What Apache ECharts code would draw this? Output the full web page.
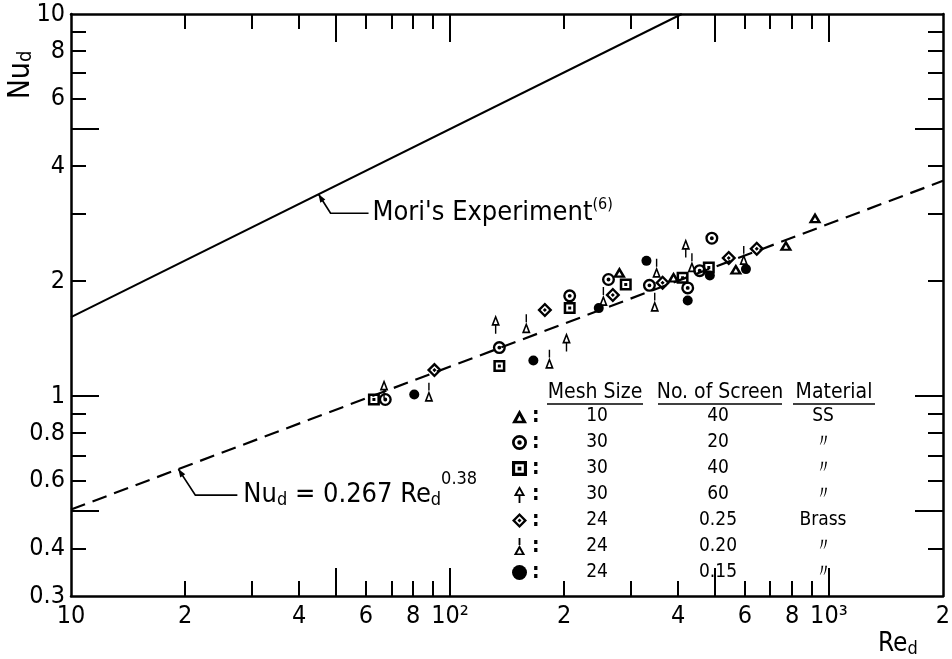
<!DOCTYPE html>
<html>
<head>
<meta charset="utf-8">
<script src="https://cdn.jsdelivr.net/npm/echarts@6/dist/echarts.min.js"></script>
<style>
  html, body { margin: 0; padding: 0; background: #fff; }
  #chart { width: 952px; height: 659px; }
</style>
</head>
<body>
<div id="chart"></div>
<script>
// readings as [Re_d, Nu_d], one list per symbol of the key
var ss10x40 = [[280, 2.11], [389, 2.05], [568, 2.15], [770, 2.48], [919, 2.93]];
var ss30x20 = [[67.5, 0.98], [135, 1.34], [207, 1.83], [262, 2.02], [336, 1.95], [424, 1.92], [456, 2.13], [491, 2.59]];
var ss30x40 = [[63, 0.98], [135, 1.20], [207, 1.70], [291, 1.96], [411, 2.04], [482, 2.17]];
var ss30x60 = [[67, 1.07], [132, 1.58], [203, 1.42], [419, 2.50]];
var br24x025 = [[91, 1.17], [178, 1.68], [269, 1.84], [364, 1.98], [544, 2.30], [645, 2.43]];
var br24x020 = [[88, 1.00], [159, 1.51], [183, 1.22], [254, 1.78], [351, 2.11], [347, 1.72], [435, 2.18], [596, 2.28]];
var br24x015 = [[80.5, 1.01], [166, 1.24], [247, 1.70], [330, 2.26], [424, 1.78], [485, 2.07], [604, 2.15]];

// the two drawn lines (end points)
var moriLine = [[10, 1.61], [409, 10]];
var fitLine = [[10, 0.505], [2000, 3.66]];

// key table
var meshSizes = ['10', '30', '30', '30', '24', '24', '24'];
var screenCounts = ['40', '20', '40', '60', '0.25', '0.20', '0.15'];
var materials = ['SS', '\u3003', '\u3003', '\u3003', 'Brass', '\u3003', '\u3003'];

// axis ticks and labels
var xMinor = [20, 30, 40, 60, 70, 80, 90, 200, 300, 400, 600, 700, 800, 900];
var xMajor = [50, 100, 500, 1000];
var xLabelValues = [10, 20, 40, 60, 80, 100, 200, 400, 600, 800, 1000, 2000];
var xLabelText = ['10', '2', '4', '6', '8', '10\u00b2', '2', '4', '6', '8', '10\u00b3', '2'];
var yMinor = [0.4, 0.6, 0.7, 0.8, 0.9, 2, 3, 4, 6, 7, 8, 9];
var yMajor = [0.5, 1, 5];
var yLabelValues = [0.3, 0.4, 0.6, 0.8, 1, 2, 4, 6, 8, 10];
var yLabelText = ['0.3', '0.4', '0.6', '0.8', '1', '2', '4', '6', '8', '10'];

var font = "'DejaVu Sans Condensed', 'DejaVu Sans'";

var symbols = {
    triA: 'path://M10,0L20,18L0,18Z M10,8L6.6,14.6L13.4,14.6Z',
    circDot: 'path://M0,10A10,10,0,1,1,20,10A10,10,0,1,1,0,10Z M3.6,10A6.4,6.4,0,1,0,16.4,10A6.4,6.4,0,1,0,3.6,10Z M7,10A3,3,0,1,1,13,10A3,3,0,1,1,7,10Z',
    sqDot: 'path://M0,0L20,0L20,20L0,20Z M4.2,4.2L4.2,15.8L15.8,15.8L15.8,4.2Z M7.5,7.5L12.5,7.5L12.5,12.5L7.5,12.5Z',
    stemDown: 'path://M8,0L16,14L0,14Z M8,5.4L4.5,11.8L11.5,11.8Z M6.7,14L9.3,14L9.3,24L6.7,24Z',
    diaDot: 'path://M10,0L20,10L10,20L0,10Z M10,4.4L4.4,10L10,15.6L15.6,10Z M10,7.3L12.7,10L10,12.7L7.3,10Z',
    stemUp: 'path://M6.7,0L9.3,0L9.3,10L6.7,10Z M8,10L16,24L0,24Z M8,15.4L4.5,21.8L11.5,21.8Z',
    dot: 'circle'
};

var groups = [
    { name: 'k0', data: ss10x40, symbol: symbols.triA, size: [13, 12], off: [0, 0] },
    { name: 'k1', data: ss30x20, symbol: symbols.circDot, size: [13, 13], off: [0, 0] },
    { name: 'k2', data: ss30x40, symbol: symbols.sqDot, size: [12, 12], off: [0, 0] },
    { name: 'k3', data: ss30x60, symbol: symbols.stemDown, size: [13, 19], off: [0, 4] },
    { name: 'k4', data: br24x025, symbol: symbols.diaDot, size: [15, 15], off: [0, 0] },
    { name: 'k5', data: br24x020, symbol: symbols.stemUp, size: [13, 19], off: [0, -4] },
    { name: 'k6', data: br24x015, symbol: symbols.dot, size: 10, off: [0, 0] }
];
var groupNames = groups.map(function(g) { return g.name; });

function pick(values, texts, v) {
    for (var i = 0; i < values.length; i++) {
        if (Math.abs(Math.log(values[i]) - Math.log(v)) < 1e-4) return texts[i];
    }
    return '';
}

function makeAxis(kind, pos, ticks, len, withLabels) {
    var isX = kind === 'x';
    var ax = {
        type: 'log',
        logBase: 10,
        min: isX ? 10 : 0.3,
        max: isX ? 2000 : 10,
        position: pos,
        gridIndex: 0,
        axisLine: { show: len < 20, onZero: false, lineStyle: { color: '#000', width: 2.5 } },
        axisTick: { show: true, inside: true, length: len, customValues: ticks, lineStyle: { color: '#000', width: 2 } },
        axisLabel: { show: false },
        splitLine: { show: false },
        minorTick: { show: false },
        minorSplitLine: { show: false }
    };
    if (withLabels) {
        ax.axisLabel = {
            show: true,
            customValues: isX ? xLabelValues : yLabelValues,
            margin: isX ? 8 : 6,
            color: '#000',
            fontFamily: font,
            fontSize: 25,
            hideOverlap: false,
            formatter: function(v) {
                return isX ? pick(xLabelValues, xLabelText, v) : pick(yLabelValues, yLabelText, v);
            }
        };
    }
    return ax;
}

var dom = document.getElementById('chart');
var myChart = echarts.init(dom, null, { renderer: 'canvas' });

var series = [{
    name: 'mori',
    type: 'line',
    data: moriLine,
    showSymbol: false,
    silent: true,
    lineStyle: { color: '#000', width: 2 },
    z: 1
}, {
    name: 'fit',
    type: 'line',
    data: fitLine,
    showSymbol: false,
    silent: true,
    lineStyle: { color: '#000', width: 2.2, type: [15, 8] },
    z: 1
}];
groups.forEach(function(g) {
    series.push({
        name: g.name,
        type: 'scatter',
        data: g.data,
        symbol: g.symbol,
        symbolSize: g.size,
        symbolOffset: g.off,
        symbolKeepAspect: true,
        silent: true,
        itemStyle: { color: '#000', opacity: 1 },
        z: 3
    });
});

var option = {
    backgroundColor: '#fff',
    animation: false,
    grid: { left: 71, right: 9, top: 14, bottom: 63, containLabel: false, outerBoundsMode: 'none' },
    xAxis: [
        makeAxis('x', 'bottom', xMinor, 15, true),
        makeAxis('x', 'bottom', xMajor, 28, false),
        makeAxis('x', 'top', xMinor, 15, false),
        makeAxis('x', 'top', xMajor, 28, false)
    ],
    yAxis: [
        makeAxis('y', 'left', yMinor, 15, true),
        makeAxis('y', 'left', yMajor, 28, false),
        makeAxis('y', 'right', yMinor, 15, false),
        makeAxis('y', 'right', yMajor, 28, false)
    ],
    legend: {
        orient: 'vertical',
        left: 512,
        top: 406,
        padding: 0,
        itemGap: 5,
        itemWidth: 15,
        itemHeight: 17,
        selectedMode: false,
        data: groupNames,
        formatter: function(name) {
            var i = groupNames.indexOf(name);
            return '{c|:}{m|' + meshSizes[i] + '}{n|' + screenCounts[i] + '}{k|' + materials[i] + '}';
        },
        textStyle: {
            color: '#000',
            fontFamily: font,
            fontSize: 19,
            lineHeight: 21,
            rich: {
                c: { width: 10, fontSize: 21, fontWeight: 'bold' },
                m: { width: 110, align: 'center' },
                n: { width: 132, align: 'center' },
                k: { width: 78, align: 'center' }
            }
        }
    },
    series: series
};
myChart.setOption(option, true);

// annotations: leader arrows hang off the two lines
function onLine(line, re) {
    var x0 = Math.log10(line[0][0]), x1 = Math.log10(line[1][0]);
    var y0 = Math.log10(line[0][1]), y1 = Math.log10(line[1][1]);
    var t = (Math.log10(re) - x0) / (x1 - x0);
    return [re, Math.pow(10, y0 + t * (y1 - y0))];
}
function leader(tip, dx, dy, len) {
    var ex = tip[0] + dx, ey = tip[1] + dy;
    var n = Math.sqrt(dx * dx + dy * dy);
    var ux = -dx / n, uy = -dy / n;
    var bx = tip[0] - ux * 8, by = tip[1] - uy * 8;
    return [{
        type: 'polyline',
        shape: { points: [[tip[0], tip[1]], [ex, ey], [ex + len, ey]] },
        style: { stroke: '#000', lineWidth: 1.7, fill: null }
    }, {
        type: 'polygon',
        shape: { points: [[tip[0], tip[1]], [bx - uy * 3, by + ux * 3], [bx + uy * 3, by - ux * 3]] },
        style: { fill: '#000' }
    }];
}

var moriTip = myChart.convertToPixel({ xAxisIndex: 0, yAxisIndex: 0 }, onLine(moriLine, 45));
var fitTip = myChart.convertToPixel({ xAxisIndex: 0, yAxisIndex: 0 }, onLine(fitLine, 19.2));

var graphics = [];
graphics = graphics.concat(leader(moriTip, 12, 19, 38));
graphics = graphics.concat(leader(fitTip, 17, 26, 42));
graphics.push({
    type: 'text',
    x: moriTip[0] + 54, y: moriTip[1] + 19,
    style: {
        text: "{t|Mori's Experiment}{s|(6)}",
        align: 'left', verticalAlign: 'middle', fill: '#000',
        rich: {
            t: { fontFamily: font, fontSize: 27, lineHeight: 32 },
            s: { fontFamily: font, fontSize: 16, verticalAlign: 'top' }
        }
    }
});
graphics.push({
    type: 'text',
    x: fitTip[0] + 65, y: fitTip[1] + 26,
    style: {
        text: '{t|Nu}{s|d}{t| = 0.267 Re}{s|d}{p|0.38}',
        align: 'left', verticalAlign: 'middle', fill: '#000',
        rich: {
            t: { fontFamily: font, fontSize: 27, lineHeight: 50 },
            s: { fontFamily: font, fontSize: 18, verticalAlign: 'bottom', padding: [0, 0, 11, 0] },
            p: { fontFamily: font, fontSize: 18, verticalAlign: 'top' }
        }
    }
});
// axis names
graphics.push({
    type: 'text', x: 878, y: 644,
    style: {
        text: '{t|Re}{s|d}', align: 'left', verticalAlign: 'middle', fill: '#000',
        rich: {
            t: { fontFamily: font, fontSize: 26, lineHeight: 30 },
            s: { fontFamily: font, fontSize: 18, verticalAlign: 'bottom', padding: [0, 0, 1, 0] }
        }
    }
});
graphics.push({
    type: 'text', x: 21, y: 75, rotation: Math.PI / 2,
    style: {
        text: '{t|Nu}{s|d}', align: 'center', verticalAlign: 'middle', fill: '#000',
        rich: {
            t: { fontFamily: font, fontSize: 30, lineHeight: 34 },
            s: { fontFamily: font, fontSize: 20, verticalAlign: 'bottom', padding: [0, 0, 2, 0] }
        }
    }
});
// key table headings
var heads = [['Mesh Size', 595, 547, 643], ['No. of Screen', 720, 658, 782], ['Material', 834, 793, 875]];
heads.forEach(function(h) {
    graphics.push({
        type: 'text', x: h[1], y: 393,
        style: { text: h[0], align: 'center', verticalAlign: 'middle', fill: '#000', fontFamily: font, fontSize: 21 }
    });
    graphics.push({
        type: 'line', shape: { x1: h[2], y1: 404, x2: h[3], y2: 404 },
        style: { stroke: '#000', lineWidth: 1.6 }
    });
});

myChart.setOption({ graphic: graphics });
</script>
</body>
</html>
